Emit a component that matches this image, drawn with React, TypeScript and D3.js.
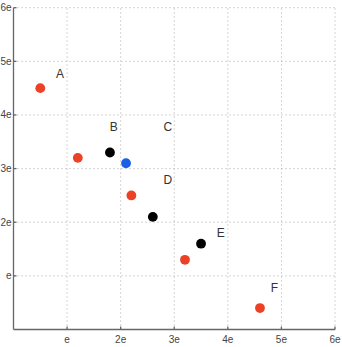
import * as d3 from "d3";

const E = Math.E;
const tickMultiples = [1, 2, 3, 4, 5, 6];
const tickLabels = ["e", "2e", "3e", "4e", "5e", "6e"];

// points in units of e
const pointX = [0.5, 1.2, 1.8, 2.1, 2.2, 2.6, 3.2, 3.5, 4.6];
const pointY = [4.5, 3.2, 3.3, 3.1, 2.5, 2.1, 1.3, 1.6, 0.4];
const pointColor = ["red", "red", "black", "blue", "red", "black", "red", "black", "red"];

const labelText = ["A", "B", "C", "D", "E", "F"];
const labelX = [0.87, 1.87, 2.88, 2.88, 3.87, 4.87];
const labelY = [4.78, 3.79, 3.79, 2.79, 1.8, 0.79];

const palette: Record<string, string> = { red: "#ec4027", black: "#000000", blue: "#1a5fe6" };

export default function App() {
  const width = 342, height = 347;
  const x = d3.scaleLinear([0, 6 * E], [13.5, 335]);
  const y = d3.scaleLinear([0, 6 * E], [329.5, 7.7]);
  const ticks = tickMultiples.map((k) => k * E);
  const font = "Liberation Sans, Arial, sans-serif";

  return (
    <svg width={width} height={height} style={{ position: "absolute", left: 0, top: 0, background: "#fff" }}>
      <g stroke="#aaa" strokeWidth="1" strokeDasharray="1,3">
        {ticks.map((t) => <line key={"gx" + t} x1={x(t)} x2={x(t)} y1={y(0)} y2={y(6 * E)} />)}
        {ticks.map((t) => <line key={"gy" + t} x1={x(0)} x2={x(6 * E)} y1={y(t)} y2={y(t)} />)}
      </g>
      <g stroke="#666" strokeWidth="1.3">
        <line x1={x(0)} x2={x(0)} y1={y(0)} y2={y(6 * E)} />
        <line x1={x(0)} x2={x(6 * E)} y1={y(0)} y2={y(0)} />
        {ticks.map((t) => <line key={"tx" + t} x1={x(t)} x2={x(t)} y1={y(0)} y2={y(0) - 3} />)}
        {ticks.map((t) => <line key={"ty" + t} x1={x(0)} x2={x(0) + 3} y1={y(t)} y2={y(t)} />)}
      </g>
      <g fontFamily={font} fontSize="10" fill="#444">
        {ticks.map((t, i) => (
          <text key={"lx" + t} x={x(t)} y={y(0) + 13} textAnchor="middle">{tickLabels[i]}</text>
        ))}
        {ticks.map((t, i) => (
          <text key={"ly" + t} x={x(0) - 2} y={y(t) + 3.5} textAnchor="end">{tickLabels[i]}</text>
        ))}
      </g>
      <g>
        {pointX.map((px, i) => (
          <circle key={"p" + i} cx={x(px * E)} cy={y(pointY[i] * E)} r="4.9" fill={palette[pointColor[i]]} />
        ))}
      </g>
      <g fontFamily={font} fontSize="12" fill="#333" textAnchor="middle">
        {labelText.map((l, i) => (
          <text key={l} x={x(labelX[i] * E)} y={y(labelY[i] * E) + 4.5}>{l}</text>
        ))}
      </g>
    </svg>
  );
}
